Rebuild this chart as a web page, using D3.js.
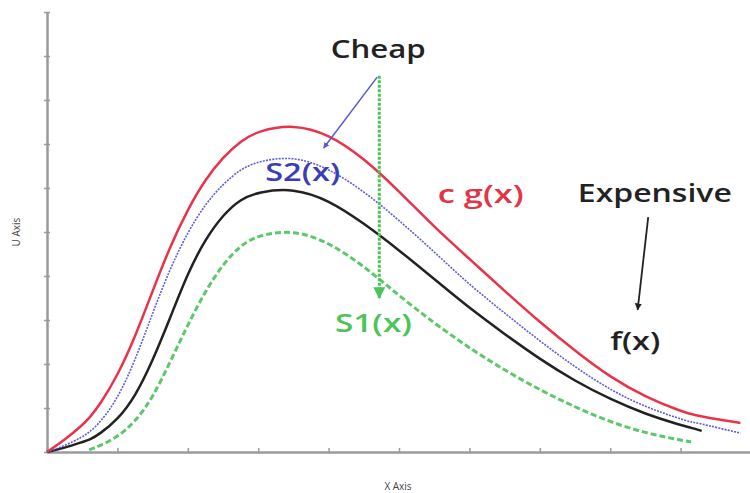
<!DOCTYPE html>
<html>
<head>
	<meta charset="UTF-8" />
	<title>Rejection sampling envelope</title>
	<script src="https://d3js.org/d3.v7.min.js"></script>
	<style>
		body { margin: 0; background: #fff; }
		text { font-family: "Open Sans", "DejaVu Sans", sans-serif; }
		.axis path, .axis line { stroke: #9a9a9a; }
		.axis path { stroke-width: 2.5; }
		.axis line { stroke-width: 1.5; }
	</style>
</head>
<body>
	<div id="main"></div>
	<script type="text/javascript">
		// sample grid (x) shared by all curves, null = curve not drawn there
		var xs = [0, 0.25, 0.5, 0.6, 0.75, 1, 1.25, 1.5, 1.75, 2, 2.25, 2.5, 2.75, 3, 3.5, 4, 4.5, 5, 5.5, 6, 6.5, 7, 7.5, 8, 8.5, 9, 9.15, 9.3, 9.5, 9.85];
		var cg = [0, 0.27, 0.61, 0.77, 1.07, 1.73, 2.61, 3.66, 4.68, 5.52, 6.2, 6.7, 7.07, 7.3, 7.45, 7.23, 6.68, 5.93, 5.11, 4.39, 3.66, 2.95, 2.3, 1.7, 1.25, 0.93, 0.86, 0.81, 0.75, 0.66];
		var s2 = [0, 0.14, 0.34, 0.45, 0.66, 1.2, 2.07, 3.16, 4.18, 5.0, 5.64, 6.09, 6.43, 6.61, 6.73, 6.45, 5.93, 5.27, 4.55, 3.8, 3.16, 2.52, 1.93, 1.41, 1.02, 0.75, 0.68, 0.64, 0.56, 0.43];
		var fx = [0, 0.09, 0.23, 0.27, 0.41, 0.73, 1.25, 2.07, 3.05, 4.07, 4.84, 5.39, 5.75, 5.91, 6.0, 5.73, 5.2, 4.59, 3.93, 3.27, 2.68, 2.11, 1.61, 1.2, 0.86, 0.61, 0.55, 0.48, null, null];
		var s1 = [null, null, null, 0.05, 0.14, 0.34, 0.68, 1.23, 2.05, 2.89, 3.66, 4.27, 4.7, 4.93, 5.05, 4.77, 4.23, 3.55, 2.93, 2.36, 1.86, 1.41, 1.02, 0.68, 0.43, 0.27, 0.23, null, null, null];
		var xTicks = d3.range(0, 11);
		var yTicks = d3.range(0, 11);

		var width = 750, height = 493;
		var svg = d3.select('#main').append('svg').attr('width', width).attr('height', height);

		var x = d3.scaleLinear().domain([0, 10]).range([47, 751]);
		var y = d3.scaleLinear().domain([0, 10]).range([452, 12]);

		// axes
		var yAxis = svg.append('g').attr('class', 'axis').attr('transform', 'translate(47,0)')
			.call(d3.axisLeft(y).tickValues(yTicks).tickSizeOuter(0).tickSizeInner(3).tickFormat(''));
		yAxis.selectAll('.tick line').attr('x1', 3).attr('x2', -3);
		svg.append('g').attr('class', 'axis').attr('transform', 'translate(0,452)')
			.call(d3.axisBottom(x).tickValues(xTicks).tickSizeOuter(0).tickSizeInner(-4).tickFormat(''));

		svg.append('text').attr('transform', 'translate(20,232) rotate(-90)').attr('text-anchor', 'middle')
			.attr('font-size', 10).attr('fill', '#444').text('U Axis');
		svg.append('text').attr('x', 398).attr('y', 490).attr('text-anchor', 'middle')
			.attr('font-size', 10).attr('fill', '#444').text('X Axis');

		// arrow heads
		var defs = svg.append('defs');
		[['ar-green', '#4cc45a'], ['ar-blue', '#5a5ad0'], ['ar-black', '#222']].forEach(function (m) {
			defs.append('marker').attr('id', m[0]).attr('viewBox', '0 0 10 10')
				.attr('refX', 9).attr('refY', 5).attr('markerWidth', 4).attr('markerHeight', 4)
				.attr('markerUnits', 'strokeWidth').attr('orient', 'auto')
				.append('path').attr('d', 'M0,0L10,5L0,10z').attr('fill', m[1]);
		});

		var line = d3.line()
			.defined(function (d) { return d[1] !== null; })
			.x(function (d) { return x(d[0]); })
			.y(function (d) { return y(d[1]); })
			.curve(d3.curveBasis);

		function series(vals) { return xs.map(function (v, i) { return [v, vals[i]]; }); }

		svg.append('path').attr('d', line(series(s1))).attr('fill', 'none')
			.attr('stroke', '#5cc86a').attr('stroke-width', 3).attr('stroke-dasharray', '6,3');
		svg.append('path').attr('d', line(series(fx))).attr('fill', 'none')
			.attr('stroke', '#222').attr('stroke-width', 2.5);
		svg.append('path').attr('d', line(series(s2))).attr('fill', 'none')
			.attr('stroke', '#5c5cdc').attr('stroke-width', 1.6).attr('stroke-dasharray', '2,1.2');
		svg.append('path').attr('d', line(series(cg))).attr('fill', 'none')
			.attr('stroke', '#e8334a').attr('stroke-width', 2.5);

		// annotation arrows
		svg.append('line').attr('x1', x(4.72)).attr('y1', y(8.55)).attr('x2', x(4.72)).attr('y2', y(3.5))
			.attr('stroke', '#4cc45a').attr('stroke-width', 3).attr('stroke-dasharray', '3,1.5')
			.attr('marker-end', 'url(#ar-green)');
		svg.append('line').attr('x1', x(4.69)).attr('y1', y(8.52)).attr('x2', x(3.93)).attr('y2', y(6.91))
			.attr('stroke', '#5a5ad0').attr('stroke-width', 1.5)
			.attr('marker-end', 'url(#ar-blue)');
		svg.append('line').attr('x1', x(8.54)).attr('y1', y(5.34)).attr('x2', x(8.39)).attr('y2', y(3.23))
			.attr('stroke', '#222').attr('stroke-width', 1.8)
			.attr('marker-end', 'url(#ar-black)');

		// annotation labels
		function label(t, xv, yv, color, len) {
			svg.append('text').attr('x', x(xv)).attr('y', y(yv)).attr('fill', color)
				.attr('font-size', 25).attr('font-weight', 600)
				.attr('textLength', len).attr('lengthAdjust', 'spacingAndGlyphs').text(t);
		}
		label('Cheap', 4.03, 8.95, '#222', 95);
		label('S2(x)', 3.1, 6.16, '#3a3db5', 75);
		label('c g(x)', 5.55, 5.66, '#e23548', 86);
		label('Expensive', 7.54, 5.68, '#222', 154);
		label('f(x)', 8.0, 2.32, '#222', 50);
		label('S1(x)', 4.09, 2.73, '#4cc45a', 77);
	</script>
</body>
</html>
